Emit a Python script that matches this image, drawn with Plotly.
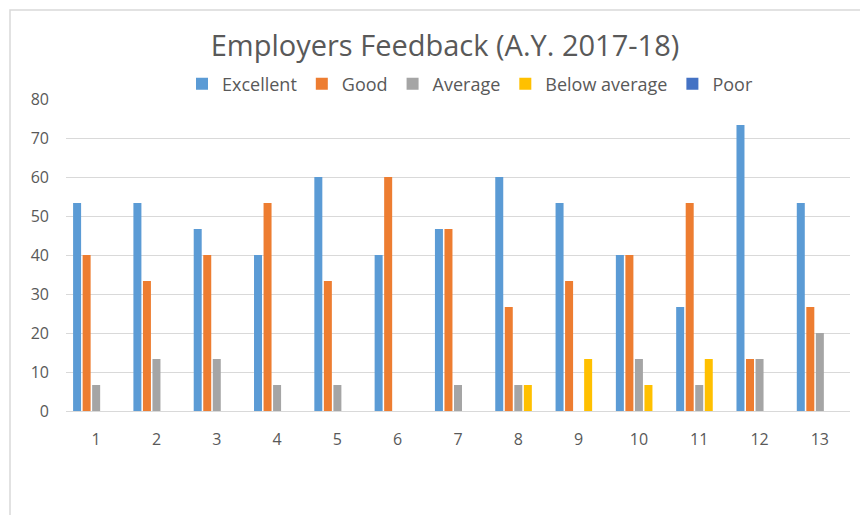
import plotly.graph_objects as go

categories = ["1", "2", "3", "4", "5", "6", "7", "8", "9", "10", "11", "12", "13"]
excellent = [53.33, 53.33, 46.67, 40, 60, 40, 46.67, 60, 53.33, 40, 26.67, 73.33, 53.33]
good = [40, 33.33, 40, 53.33, 33.33, 60, 46.67, 26.67, 33.33, 40, 53.33, 13.33, 26.67]
average = [6.67, 13.33, 13.33, 6.67, 6.67, 0, 6.67, 6.67, 0, 13.33, 6.67, 13.33, 20]
below_average = [0, 0, 0, 0, 0, 0, 0, 6.67, 13.33, 6.67, 13.33, 0, 0]
poor = [0, 0, 0, 0, 0, 0, 0, 0, 0, 0, 0, 0, 0]
y_ticks = [0, 10, 20, 30, 40, 50, 60, 70, 80]

series = [
    ("Excellent", excellent, "#5B9BD5"),
    ("Good", good, "#ED7D31"),
    ("Average", average, "#A5A5A5"),
    ("Below average", below_average, "#FFC000"),
    ("Poor", poor, "#4472C4"),
]

fig = go.Figure()
for name, vals, color in series:
    fig.add_trace(go.Bar(x=categories, y=vals, name=name, marker=dict(color=color, line=dict(width=0))))

# page is offset by the browser's 8px body margin; margins compensate
L, R, T, B = 58, 26, 91, 112
W, H = 868, 515
pw, ph = W - L - R, H - T - B
font_family = "Open Sans, Liberation Sans, sans-serif"
fig.update_layout(
    width=W, height=H,
    margin=dict(l=L, r=R, t=T, b=B, autoexpand=False),
    paper_bgcolor="white", plot_bgcolor="white",
    barmode="group", bargap=0.21, bargroupgap=0.16,
    font=dict(family=font_family, color="#595959", size=15),
    title=dict(text="Employers Feedback (A.Y. 2017-18)", x=437 / W, xanchor="center",
               y=1 - 38 / H, yanchor="middle", font=dict(size=29, color="#595959", family=font_family)),
    legend=dict(orientation="h", x=(462 - L) / pw, xanchor="center", y=(H - B - 76) / ph, yanchor="middle",
                font=dict(size=18, color="#595959"), itemwidth=30, traceorder="normal",
                bgcolor="rgba(0,0,0,0)"),
    showlegend=True,
)
fig.update_xaxes(showgrid=False, showline=True, linecolor="#D9D9D9", linewidth=1, ticks="",
                 tickfont=dict(size=16, color="#595959"), ticklabelstandoff=14)
fig.update_yaxes(range=[0, 80], tickvals=y_ticks, showgrid=True, gridcolor="#D9D9D9", gridwidth=1,
                 zeroline=False, showline=False, ticks="", tickfont=dict(size=16, color="#595959"),
                 ticklabelstandoff=16)
fig.add_shape(type="rect", xref="paper", yref="paper",
              x0=(2 - L) / pw, x1=(W + 20 - L) / pw, y0=(H - B - (H + 20)) / ph, y1=(H - B - 2) / ph,
              line=dict(color="#D9D9D9", width=1.5), fillcolor="rgba(0,0,0,0)", layer="below")
fig.write_html("out.html")
